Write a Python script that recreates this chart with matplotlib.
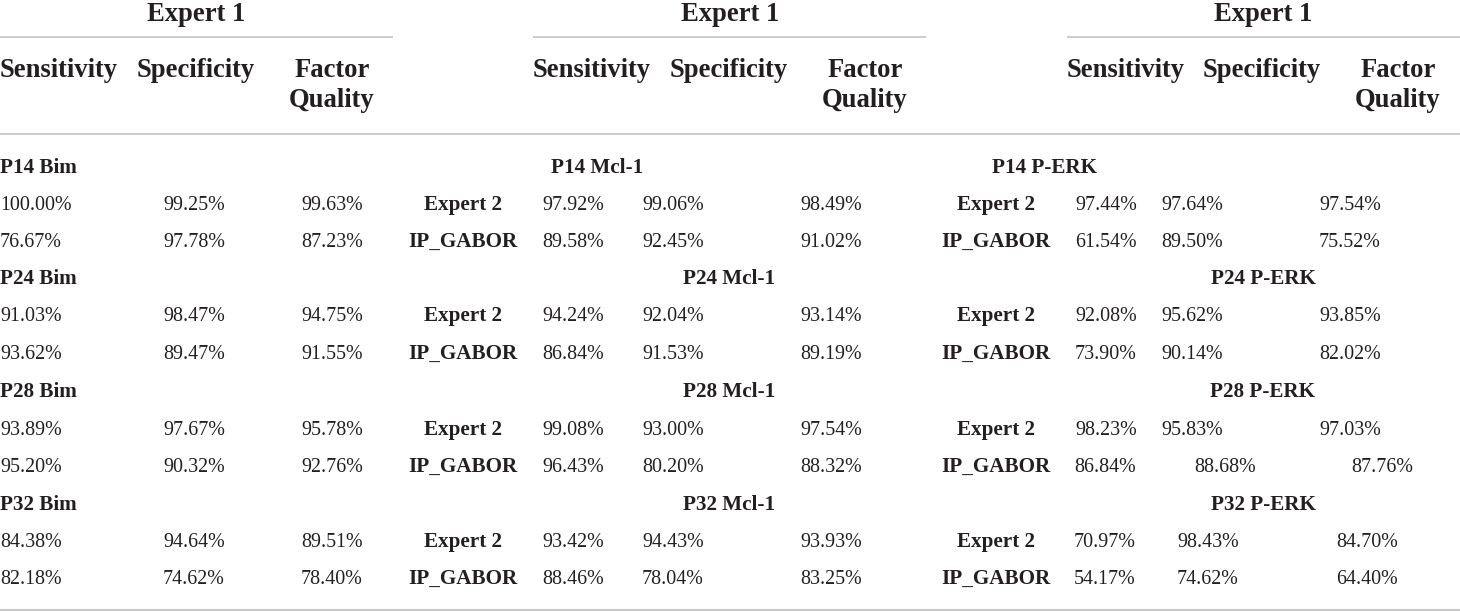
import matplotlib
matplotlib.use("Agg")
import matplotlib.pyplot as plt

# ---- data (percent) ----
ages = ["P14", "P24", "P28", "P32"]
stains = ["Bim", "Mcl-1", "P-ERK"]
metrics = ["Sensitivity", "Specificity", "Factor\nQuality"]
raters = ["Expert 2", "IP_GABOR"]

bim_sens_e2 = [100.00, 91.03, 93.89, 84.38]
bim_spec_e2 = [99.25, 98.47, 97.67, 94.64]
bim_fq_e2 = [99.63, 94.75, 95.78, 89.51]
bim_sens_ip = [76.67, 93.62, 95.20, 82.18]
bim_spec_ip = [97.78, 89.47, 90.32, 74.62]
bim_fq_ip = [87.23, 91.55, 92.76, 78.40]

mcl_sens_e2 = [97.92, 94.24, 99.08, 93.42]
mcl_spec_e2 = [99.06, 92.04, 93.00, 94.43]
mcl_fq_e2 = [98.49, 93.14, 97.54, 93.93]
mcl_sens_ip = [89.58, 86.84, 96.43, 88.46]
mcl_spec_ip = [92.45, 91.53, 80.20, 78.04]
mcl_fq_ip = [91.02, 89.19, 88.32, 83.25]

erk_sens_e2 = [97.44, 92.08, 98.23, 70.97]
erk_spec_e2 = [97.64, 95.62, 95.83, 98.43]
erk_fq_e2 = [97.54, 93.85, 97.03, 84.70]
erk_sens_ip = [61.54, 73.90, 86.84, 54.17]
erk_spec_ip = [89.50, 90.14, 88.68, 74.62]
erk_fq_ip = [75.52, 82.02, 87.76, 64.40]

panels = [
    {"e2": [bim_sens_e2, bim_spec_e2, bim_fq_e2], "ip": [bim_sens_ip, bim_spec_ip, bim_fq_ip]},
    {"e2": [mcl_sens_e2, mcl_spec_e2, mcl_fq_e2], "ip": [mcl_sens_ip, mcl_spec_ip, mcl_fq_ip]},
    {"e2": [erk_sens_e2, erk_spec_e2, erk_fq_e2], "ip": [erk_sens_ip, erk_spec_ip, erk_fq_ip]},
]

# ---- layout (pixels) ----
W, H = 1460, 611
ink = "#231f20"
rule = "#c8c8c8"
serif = ["Liberation Serif", "DejaVu Serif"]
fs_val = 14.4
fs_lab = 15.2
fs_head = 19.2

group_lines = [(0, 393), (533, 926), (1067, 1460)]
group_title_x = [196, 730, 1263]
sens_x = [0, 533, 1067]
spec_x = [137, 670, 1203]
fq_x = [332, 865, 1398]

row_y = [166, 203, 240, 277, 314, 352, 390, 428, 465, 503, 540, 577]
cols = [[0, 163, 301], [542, 642, 800], [1075, 1161, 1319]]
label_x = [None, 463, 996]
section_x = [[0] * 4, [597, 729, 729, 729], [1045, 1263, 1263, 1263]]
# a few cells in the last block sit off the grid in the original
col_override = {(2, 2, 1): [1074, 1194, 1351], (2, 3, 0): [1074, 1177, 1336],
                (2, 3, 1): [1074, 1177, 1336]}

fig = plt.figure(figsize=(W / 100, H / 100), dpi=100)
ax = fig.add_axes([0, 0, 1, 1])
ax.set_xlim(0, W)
ax.set_ylim(H, 0)
ax.axis("off")


def put(x, yc, s, size, bold=False, ha="left"):
    # yc is the visual centre of the capitals, shift to baseline
    cap = 0.662 * size * 100 / 72
    ax.text(x, yc + cap / 2, s, fontsize=size, family=serif, color=ink,
            fontweight="bold" if bold else "normal", ha=ha, va="baseline")


# header
for p in range(3):
    put(group_title_x[p], 12, "Expert 1", fs_head, True, "center")
    ax.plot(group_lines[p], [37, 37], color=rule, lw=1.3, solid_capstyle="butt")
    put(sens_x[p], 68, metrics[0], fs_head, True)
    put(spec_x[p], 68, metrics[1], fs_head, True)
    put(fq_x[p], 68, metrics[2].split("\n")[0], fs_head, True, "center")
    put(fq_x[p], 98, metrics[2].split("\n")[1], fs_head, True, "center")

ax.plot([0, W], [134, 134], color=rule, lw=1.3)
ax.plot([0, W], [610, 610], color=rule, lw=1.5)

# body
for p, stain in enumerate(stains):
    for a, age in enumerate(ages):
        base = a * 3
        sx = section_x[p][a]
        put(sx, row_y[base], f"{age} {stain}", fs_lab, True,
            "left" if p == 0 else "center")
        for r, key in enumerate(["e2", "ip"]):
            y = row_y[base + 1 + r]
            if label_x[p] is not None:
                put(label_x[p], y, raters[r], fs_lab, True, "center")
            xs = col_override.get((p, a, r), cols[p])
            for c in range(3):
                put(xs[c], y, f"{panels[p][key][c][a]:.2f}%", fs_val)

fig.savefig("out.png", dpi=100)
